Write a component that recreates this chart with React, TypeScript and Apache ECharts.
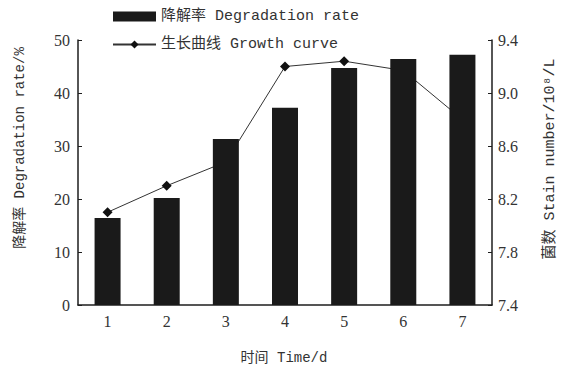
import React, { useEffect, useRef } from "react";
import * as echarts from "echarts";

const categories = ["1", "2", "3", "4", "5", "6", "7"];
const degradationRate = [16.4, 20.2, 31.3, 37.2, 44.7, 46.4, 47.2];
const growthCurve = [8.1, 8.3, 8.48, 9.2, 9.24, 9.17, 8.8];
const leftTicks = { min: 0, max: 50, interval: 10 };
const rightTicks = { min: 7.4, max: 9.4 };
const barName = "降解率 Degradation rate";
const lineName = "生长曲线 Growth curve";

const CJK = "'Liberation Mono', 'Noto Sans CJK SC'";
const NUM = "'Liberation Serif', serif";
const INK = "#1e1e1e";

export default function App() {
  const ref = useRef<HTMLDivElement>(null);
  useEffect(() => {
    document.body.style.margin = "0";
    const chart = echarts.init(ref.current!, null, { renderer: "svg" });
    chart.setOption({
      animation: false,
      backgroundColor: "#ffffff",
      grid: { left: 78, right: 85, top: 40, bottom: 66 },
      legend: {
        orient: "vertical",
        left: 107,
        top: 4,
        itemWidth: 43,
        itemHeight: 10,
        itemGap: 13,
        data: [{ name: barName, icon: "rect" }, { name: lineName }],
        textStyle: { fontFamily: CJK, fontSize: 15, color: "#333" },
      },
      xAxis: {
        type: "category",
        data: categories,
        axisLine: { lineStyle: { color: INK, width: 1.5 } },
        axisTick: { inside: true, length: 4, lineStyle: { color: INK } },
        axisLabel: { fontFamily: NUM, fontSize: 16, color: "#333", margin: 8 },
      },
      yAxis: [
        {
          type: "value",
          min: leftTicks.min,
          max: leftTicks.max,
          interval: leftTicks.interval,
          axisLine: { show: true, lineStyle: { color: INK, width: 1.5 } },
          axisTick: { show: true, inside: true, length: 4, lineStyle: { color: INK } },
          splitLine: { show: false },
          axisLabel: { fontFamily: NUM, fontSize: 16, color: "#333", margin: 8 },
        },
        {
          type: "value",
          min: rightTicks.min,
          max: rightTicks.max,
          alignTicks: true,
          position: "right",
          axisLine: { show: true, lineStyle: { color: INK, width: 1.5 } },
          axisTick: { show: true, inside: true, length: 4, lineStyle: { color: INK } },
          splitLine: { show: false },
          axisLabel: {
            fontFamily: NUM,
            fontSize: 16,
            color: "#333",
            margin: 6,
            formatter: (v: number) => v.toFixed(1),
          },
        },
      ],
      series: [
        {
          name: barName,
          type: "bar",
          data: degradationRate,
          barWidth: 26,
          itemStyle: { color: "#1a1a1a" },
          z: 3,
        },
        {
          name: lineName,
          type: "line",
          yAxisIndex: 1,
          data: growthCurve,
          symbol: "diamond",
          symbolSize: 10,
          lineStyle: { color: "#333", width: 1 },
          itemStyle: { color: "#111" },
          z: 1,
        },
      ],
      graphic: [
        {
          type: "text",
          x: 20,
          y: 148,
          rotation: Math.PI / 2,
          style: {
            text: "降解率 Degradation rate/%",
            font: `14px ${CJK}`,
            fill: "#333",
            align: "center",
            verticalAlign: "middle",
          },
        },
        {
          type: "text",
          x: 550,
          y: 159,
          rotation: Math.PI / 2,
          style: {
            text: "菌数 Stain number/10⁸/L",
            font: `15px ${CJK}`,
            fill: "#333",
            align: "center",
            verticalAlign: "middle",
          },
        },
        {
          type: "text",
          x: 284,
          y: 358,
          style: {
            text: "时间 Time/d",
            font: `14px ${CJK}`,
            fill: "#333",
            align: "center",
            verticalAlign: "middle",
          },
        },
      ],
    });
    return () => chart.dispose();
  }, []);
  return <div ref={ref} style={{ width: 577, height: 371 }} />;
}
